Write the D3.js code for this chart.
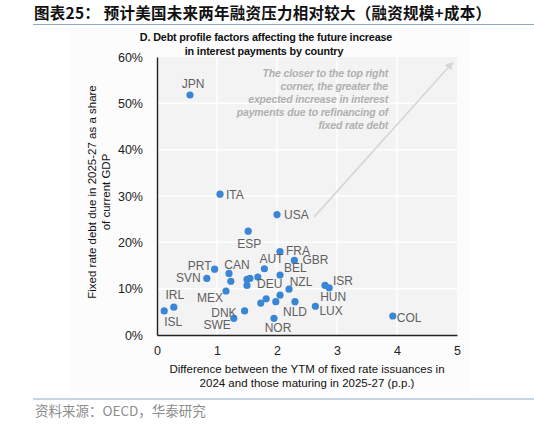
<!DOCTYPE html>
<html><head><meta charset="utf-8">
<script src="https://cdn.jsdelivr.net/npm/d3@7/dist/d3.min.js"></script>
<style>body{margin:0;background:#fff}svg{display:block}</style>
</head><body><svg id="c" width="534" height="424"></svg>
<script>
// ---- data ----
const countries = ["JPN","ITA","USA","ESP","FRA","GBR","AUT","BEL","PRT","CAN","SVN","","","","","DEU","NZL","MEX","IRL","ISL","DNK","SWE","NOR","","","","","NLD","LUX","ISR","HUN","COL"];
const ytmDiff   = [0.55,1.05,2.00,1.52,2.05,2.29,1.79,2.05,0.96,1.20,0.83,1.23,1.50,1.55,1.68,1.50,2.20,1.15,0.28,0.12,1.46,1.28,1.95,1.82,1.73,1.98,2.05,2.30,2.64,2.80,2.87,3.93];
const debtShare = [51.8,30.4,26.0,22.4,18.0,16.1,14.3,12.95,14.2,13.3,12.2,11.6,12.0,12.2,12.5,10.7,9.9,9.5,6.0,5.2,5.2,3.6,3.6,7.8,6.9,7.2,8.6,7.2,6.2,10.7,10.2,4.1];
const xTicks = [0,1,2,3,4,5];
const yTicks = [0,10,20,30,40,50,60];
const arrowFrom = [2.62,25.5], arrowTo = [4.92,58.7];
const noteLines = ["The closer to the top right","corner, the greater the","expected increase in interest","payments due to refinancing of","fixed rate debt"];

// label placement (dx, dy, anchor) – presentation only
const place = {
  JPN:[3,-11,"middle"], ITA:[6,1,"start"], USA:[7,0,"start"], ESP:[1,13,"middle"],
  FRA:[6,-1,"start"], GBR:[8,0,"start"], AUT:[7,-10,"middle"], BEL:[4,-7,"start"],
  PRT:[-3,-3,"end"], CAN:[8,-8,"middle"], SVN:[-6,0,"end"], DEU:[10,-1,"start"],
  NZL:[12,-7,"middle"], MEX:[-3,7,"end"], IRL:[1,-12,"middle"], ISL:[9,11,"middle"],
  DNK:[-8,2,"end"], SWE:[-3,7,"end"], NOR:[4,10,"middle"], NLD:[0,10,"middle"],
  LUX:[4,5,"start"], ISR:[8,-4,"start"], HUN:[4,9,"middle"], COL:[4,2,"start"]
};

const svg = d3.select("#c");
const W=534;
// header
svg.append("text").attr("x",34).attr("y",19)
  .attr("font-family","'Noto Sans CJK SC'").attr("font-weight","bold").attr("font-size",15.5).attr("letter-spacing",0.25)
  .attr("fill","#111").text("图表25：  预计美国未来两年融资压力相对较大（融资规模+成本）");
svg.append("line").attr("x1",33).attr("x2",W).attr("y1",24.5).attr("y2",24.5).attr("stroke","#8ea9c9").attr("stroke-width",1.2);
svg.append("line").attr("x1",33).attr("x2",W).attr("y1",399).attr("y2",399).attr("stroke","#8ea9c9").attr("stroke-width",1.2);
svg.append("text").attr("x",35).attr("y",416)
  .attr("font-family","'Noto Sans CJK SC'").attr("font-size",13.5)
  .attr("fill","#8c8c8c").text("资料来源：OECD，华泰研究");

// chart image background
svg.append("rect").attr("x",70).attr("y",28).attr("width",400).attr("height",365).attr("fill","#fcfcfc");

const x = d3.scaleLinear().domain([0,5]).range([157,457]);
const y = d3.scaleLinear().domain([0,60]).range([335,57]);

const font = "'Liberation Sans', Arial, sans-serif";
// title
svg.append("text").attr("text-anchor","middle")
  .attr("font-family",font).attr("font-weight","bold").attr("font-size",10.8).attr("letter-spacing",-0.15).attr("fill","#111")
  .selectAll("tspan").data(["D. Debt profile factors affecting the future increase","in interest payments by country"]).join("tspan")
  .attr("x",(d,i)=>i?264:266).attr("y",(d,i)=>41+i*14).text(d=>d);

// plot bg
svg.append("rect").attr("x",x(0)).attr("y",y(60)).attr("width",x(5)-x(0)).attr("height",y(0)-y(60)).attr("fill","#f3f3f3");
const g = svg.append("g");
g.selectAll(".gx").data(xTicks.slice(1,-1)).join("line")
  .attr("x1",d=>x(d)).attr("x2",d=>x(d)).attr("y1",y(60)).attr("y2",y(0)).attr("stroke","#fff").attr("stroke-width",1.5);
g.selectAll(".gy").data(yTicks.slice(1,-1)).join("line")
  .attr("x1",x(0)).attr("x2",x(5)).attr("y1",d=>y(d)).attr("y2",d=>y(d)).attr("stroke","#fff").attr("stroke-width",1.5);

// axes
const xa = svg.append("g").attr("transform",`translate(0,${y(0)})`)
  .call(d3.axisBottom(x).tickValues(xTicks).tickSize(0).tickPadding(11).tickFormat(d3.format("d")));
const ya = svg.append("g").attr("transform",`translate(${x(0)},0)`)
  .call(d3.axisLeft(y).tickValues(yTicks).tickSize(0).tickPadding(14).tickFormat(d=>d+"%"));
[xa,ya].forEach(a=>{
  a.select(".domain").attr("stroke","#222").attr("stroke-width",1.4);
  a.selectAll("text").attr("font-family",font).attr("font-size",12.5).attr("fill","#222");
});

// axis titles
svg.append("text").attr("text-anchor","middle").attr("font-family",font).attr("font-size",11.5).attr("fill","#111")
  .selectAll("tspan").data(["Difference between the YTM of fixed rate issuances in","2024 and those maturing in 2025-27 (p.p.)"]).join("tspan")
  .attr("x",307).attr("y",(d,i)=>373+i*14).text(d=>d);
svg.append("text").attr("text-anchor","middle").attr("font-family",font).attr("font-size",11.5).attr("fill","#111")
  .attr("transform","translate(96,192) rotate(-90)")
  .selectAll("tspan").data(["Fixed rate debt due in 2025-27 as a share","of current GDP"]).join("tspan")
  .attr("x",0).attr("y",(d,i)=>i*14).text(d=>d);

// arrow
svg.append("defs").append("marker").attr("id","ah").attr("viewBox","0 0 10 10").attr("refX",8).attr("refY",5)
  .attr("markerWidth",5).attr("markerHeight",5).attr("orient","auto")
  .append("path").attr("d","M0,0L10,5L0,10z").attr("fill","#d6d6d6");
svg.append("line").attr("x1",x(arrowFrom[0])).attr("y1",y(arrowFrom[1])).attr("x2",x(arrowTo[0])).attr("y2",y(arrowTo[1]))
  .attr("stroke","#d6d6d6").attr("stroke-width",1.6).attr("marker-end","url(#ah)");

// note
svg.append("text").attr("text-anchor","end").attr("font-family",font).attr("font-size",10.5).attr("letter-spacing",-0.15)
  .attr("font-style","italic").attr("font-weight","bold").attr("fill","#b0b0b0")
  .selectAll("tspan").data(noteLines).join("tspan")
  .attr("x",388).attr("y",(d,i)=>77+i*13).text(d=>d);

// points
const data = countries.map((c,i)=>({c, x:ytmDiff[i], y:debtShare[i]}));
svg.append("g").selectAll("circle").data(data).join("circle")
  .attr("cx",d=>x(d.x)).attr("cy",d=>y(d.y)).attr("r",3.6).attr("fill","#3a86d6");
svg.append("g").selectAll("text").data(data.filter(d=>d.c)).join("text")
  .attr("x",d=>x(d.x)+place[d.c][0]).attr("y",d=>y(d.y)+place[d.c][1])
  .attr("text-anchor",d=>place[d.c][2]).attr("dominant-baseline","central")
  .attr("font-family",font).attr("font-size",12).attr("fill","#5f5f5f").text(d=>d.c);
</script></body></html>
